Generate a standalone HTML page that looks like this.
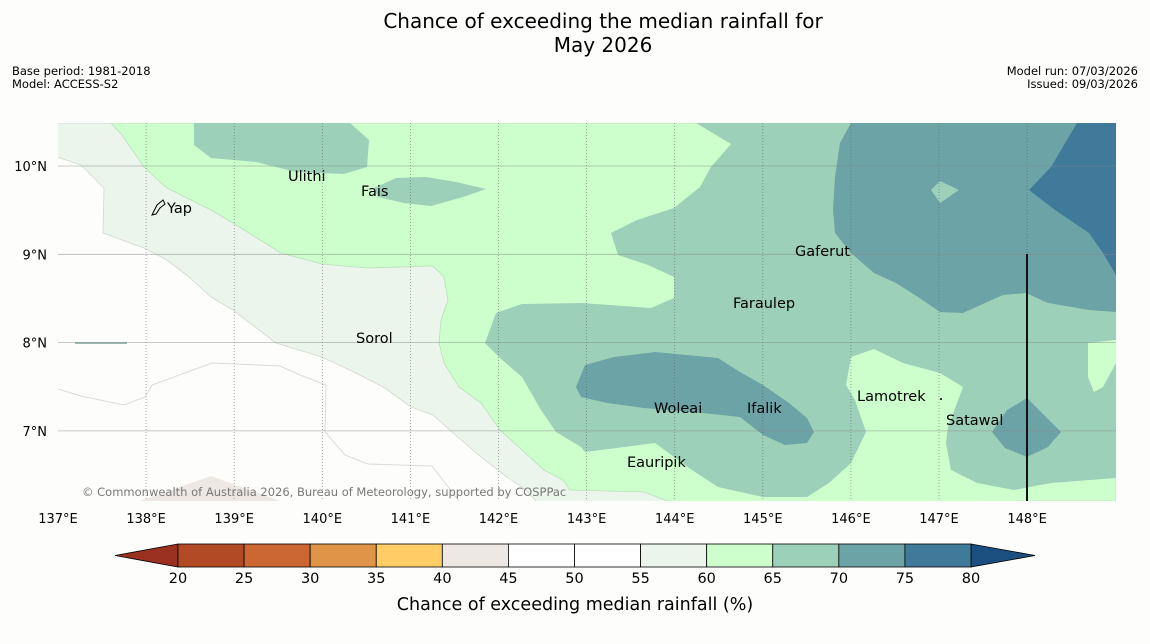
<!DOCTYPE html>
<html><head><meta charset="utf-8">
<style>
body{margin:0;background:#fdfefc;font-family:"Liberation Sans","DejaVu Sans",sans-serif;}
svg{display:block}
text{font-family:"DejaVu Sans","Liberation Sans",sans-serif;}
</style></head>
<body>
<svg id="fig" width="1150" height="644" viewBox="0 0 1150 644">
<rect width="1150" height="644" fill="#fdfefc"/>
<text x="603" y="28" font-size="20" text-anchor="middle">Chance of exceeding the median rainfall for</text>
<text x="603" y="52" font-size="20" text-anchor="middle">May 2026</text>
<text x="12" y="75" font-size="11.5">Base period: 1981-2018</text>
<text x="12" y="88" font-size="11.5">Model: ACCESS-S2</text>
<text x="1138" y="75" font-size="11.5" text-anchor="end">Model run: 07/03/2026</text>
<text x="1138" y="88" font-size="11.5" text-anchor="end">Issued: 09/03/2026</text>

<defs><clipPath id="mc"><rect x="58" y="123" width="1058" height="378"/></clipPath></defs>
<g id="map" clip-path="url(#mc)">
<rect x="58" y="123" width="1058" height="378" fill="#fdfefc"/>
<polygon fill="#ede8e4" points="140,501 211,476 280,501"/>
<polyline fill="none" stroke="#d8dcd8" stroke-width="1" points="58,389 81,396 124,405 145,397 152,385 212,363 280,366 300,375 326,385 325,432 345,455 368,464 432,466 459,501"/>
<polygon fill="#ebf5ec" stroke="#cfd8cf" stroke-width="0.8" points="57,123 1116,123 1116,501 537,502 526,490 507,477 481,457 452,432 433,415 411,407 385,388 356,373 322,357 276,343 233,310 211,297 189,277 167,260 144,248 103,233 104,188 81,165 57,157"/>
<polygon fill="#ccffcc" stroke="#b8e0b8" stroke-width="0.8" points="111,123 1116,123 1116,501 670,502 644,492 570,490 563,480 544,470 522,450 500,430 481,403 459,387 444,363 439,343 441,320 448,300 444,277 433,266 367,268 322,264 281,253 233,223 211,210 167,188 144,167 122,135"/>
<polygon fill="#9dd0b8" points="194,123 350,123 369,140 367,167 344,174 296,172 256,162 211,158 194,145"/>
<polygon fill="#9dd0b8" points="374,188 396,178 426,177 456,182 486,189 463,197 431,206 404,203 378,197"/>
<polygon fill="#9dd0b8" points="696,123 1116,123 1116,478 1051,483 1014,490 977,483 951,470 946,443 948,427 963,387 940,373 903,363 874,349 851,357 846,385 855,400 866,432 851,463 829,483 807,497 763,497 718,487 692,470 655,443 585,452 581,447 556,432 541,410 522,377 500,358 485,343 496,313 522,304 581,303 651,308 674,298 674,277 648,265 618,255 611,233 637,220 674,208 700,187 711,167 731,144"/>
<polygon fill="#ccffcc" points="1088,343 1116,340 1116,363 1103,387 1094,392 1088,377"/>
<polygon fill="#6ca3a6" points="851,123 1116,123 1116,312 1089,310 1048,303 1026,293 1003,295 985,303 963,313 940,312 918,297 896,283 874,273 851,253 835,233 833,210 835,177 840,143"/>
<polygon fill="#9dd0b8" points="931,190 940,181 959,190 940,203"/>
<polygon fill="#6ca3a6" points="576,387 585,365 614,357 655,352 718,358 740,372 763,385 789,403 807,418 814,432 807,443 785,445 763,435 740,417 703,413 644,408 607,403 581,397"/>
<polygon fill="#6ca3a6" points="1027,398 1061,432 1048,447 1027,457 1005,448 992,432 1007,410"/>
<polygon fill="#3f7a9a" points="1077,123 1116,123 1116,275 1103,253 1089,233 1055,210 1029,190 1051,167"/>
<line x1="75" y1="343" x2="127" y2="343" stroke="#7a9f98" stroke-width="1.5"/>
<g id="grid"></g>
<line x1="1027" y1="254" x2="1027" y2="501" stroke="#111" stroke-width="2"/>
</g>
<g id="ticks"></g>

<g font-size="14.5">
<path d="M152,215 L157,205 L163,200 L165,204 L160,208 L156,214 Z" fill="none" stroke="#000" stroke-width="1"/>
<text x="167" y="213">Yap</text>
<text x="288" y="181">Ulithi</text>
<text x="361" y="196">Fais</text>
<text x="356" y="343">Sorol</text>
<text x="795" y="256">Gaferut</text>
<text x="733" y="308">Faraulep</text>
<text x="654" y="413">Woleai</text>
<text x="747" y="413">Ifalik</text>
<text x="857" y="401">Lamotrek</text>
<text x="946" y="425">Satawal</text>
<text x="627" y="467">Eauripik</text>
<circle cx="941" cy="399" r="1" fill="#000"/>
</g>
<text x="82" y="496" font-size="11.5" fill="#777">© Commonwealth of Australia 2026, Bureau of Meteorology, supported by COSPPac</text>

<g id="cbar"></g>
<text x="575" y="610" font-size="17.5" text-anchor="middle">Chance of exceeding median rainfall (%)</text>
</svg>
<script>
var lonTicks=[137,138,139,140,141,142,143,144,145,146,147,148];
var latTicks=[10,9,8,7];
var cbLevels=[20,25,30,35,40,45,50,55,60,65,70,75,80];
var cbColors=["#b34a26","#cc6633","#e09448","#ffcc66","#ede8e4","#ffffff","#ffffff","#ebf5ec","#ccffcc","#9dd0b8","#6ca3a6","#3f7a9a"];
var cbLow="#9a3020", cbHigh="#1a4f80";
var NS="http://www.w3.org/2000/svg";
function xLon(l){return 58+(l-137)*88.1;}
function yLat(l){return 166+(10-l)*88.3;}
function xCb(v){return 178+(v-20)*(971-178)/60;}
function mk(tag,attrs,parent){var e=document.createElementNS(NS,tag);for(var k in attrs)e.setAttribute(k,attrs[k]);parent.appendChild(e);return e;}
var grid=document.getElementById('grid'),ticks=document.getElementById('ticks'),cb=document.getElementById('cbar');
lonTicks.forEach(function(l){
  if(l>137){var g=mk('line',{x1:xLon(l),x2:xLon(l),y1:123,y2:501,stroke:'#555','stroke-width':0.7,'stroke-dasharray':'1,2','stroke-opacity':0.7},grid);
  
  }
  var t=mk('text',{x:xLon(l),y:523,'font-size':13,'text-anchor':'middle'},ticks);t.textContent=l+'°E';
  
  
});
latTicks.forEach(function(l){
  var g=mk('line',{x1:58,x2:1116,y1:yLat(l),y2:yLat(l),stroke:'#888','stroke-width':0.8,'stroke-opacity':0.6},grid);
  
  
  var t=mk('text',{x:47,y:yLat(l)+5,'font-size':13,'text-anchor':'end'},ticks);t.textContent=l+'°N';
  
  
});
var y0=544,y1=567;
var lo=mk('polygon',{points:xCb(20)+','+y0+' 115,'+((y0+y1)/2)+' '+xCb(20)+','+y1,fill:cbLow,stroke:'#000','stroke-width':0.8},cb);


var hi=mk('polygon',{points:xCb(80)+','+y0+' 1035,'+((y0+y1)/2)+' '+xCb(80)+','+y1,fill:cbHigh,stroke:'#000','stroke-width':0.8},cb);


for(var i=0;i<cbColors.length;i++){
  var r=mk('rect',{x:xCb(cbLevels[i]),y:y0,width:xCb(cbLevels[i+1])-xCb(cbLevels[i]),height:y1-y0,fill:cbColors[i],stroke:'#000','stroke-width':0.8},cb);
  
  
}
cbLevels.forEach(function(v){
  var t=mk('text',{x:xCb(v),y:583,'font-size':14.5,'text-anchor':'middle'},cb);t.textContent=v;
  
  
});
</script>
</body></html>
